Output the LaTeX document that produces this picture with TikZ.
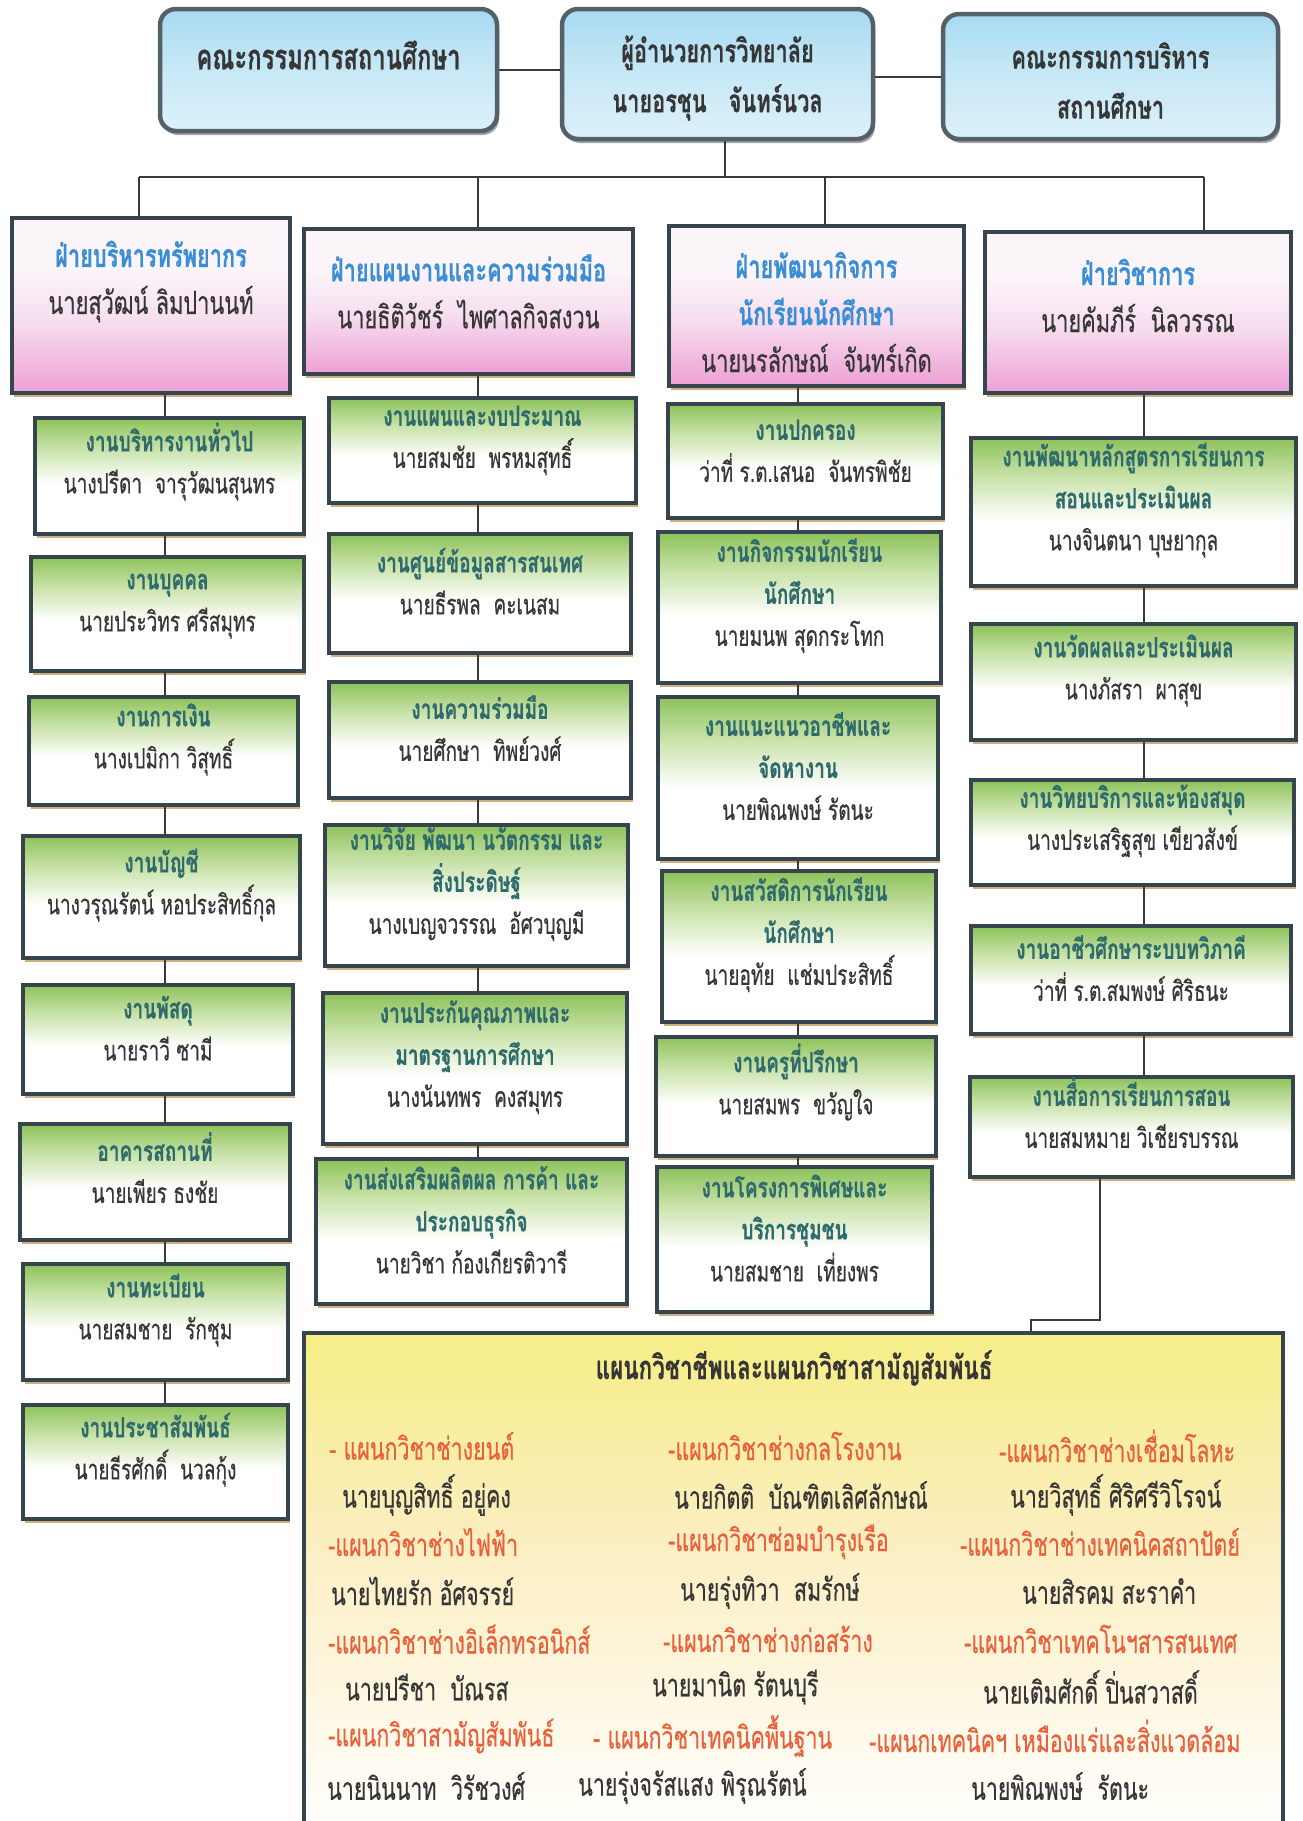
\documentclass[tikz,border=0pt]{standalone}
\usepackage{fontspec}
\setmainfont[Script=Thai,FakeStretch=0.68,FakeBold=0.4]{Loma}
\usetikzlibrary{shadows,fit,calc}
\definecolor{bordc}{HTML}{36454D}
\definecolor{shadc}{HTML}{CDAE7E}
\definecolor{gtop}{HTML}{8DC25A}
\definecolor{gmid}{HTML}{C8E2A8}
\definecolor{ptop}{HTML}{FBF4F9}
\definecolor{pmid}{HTML}{F6DDEE}
\definecolor{pbot}{HTML}{EE9FD5}
\definecolor{btop}{HTML}{A6DAF1}
\definecolor{bbot}{HTML}{DDF1FA}
\definecolor{bmid}{HTML}{C2E6F5}
\definecolor{ytop}{HTML}{F6EE86}
\definecolor{ymid}{HTML}{FBEEC0}
\definecolor{htxt}{HTML}{3A8ED5}
\definecolor{gtxt}{HTML}{2F6A6C}
\definecolor{ntxt}{HTML}{363636}
\definecolor{dtxt}{HTML}{E9603A}
\definecolor{linec}{HTML}{3A3A3A}
\pgfdeclareverticalshading{greenfade}{100bp}{color(0bp)=(white); color(25bp)=(white); color(47bp)=(white); color(62bp)=(gmid); color(75bp)=(gtop); color(100bp)=(gtop)}
\pgfdeclareverticalshading{pinkfade}{100bp}{color(0bp)=(pbot); color(25bp)=(pbot); color(45bp)=(pmid); color(60bp)=(ptop); color(100bp)=(ptop)}
\pgfdeclareverticalshading{yellowfade}{100bp}{color(0bp)=(white); color(25bp)=(white); color(55bp)=(ymid); color(75bp)=(ytop); color(100bp)=(ytop)}
\pgfdeclareverticalshading{bluefade}{100bp}{color(0bp)=(bbot); color(25bp)=(bbot); color(55bp)=(bmid); color(75bp)=(btop); color(100bp)=(btop)}
\newcommand\gtl[1]{{\bfseries\color{gtxt}#1}}
\newcommand\pnm[1]{{\color{ntxt}#1}}
\newcommand\htl[1]{{\bfseries\color{htxt}#1}}
\newcommand\dpt[1]{{\color{dtxt}#1}}
\tikzset{
 boxbase/.style={draw=bordc, line width=4.5pt, inner sep=0pt, align=center,
   drop shadow={shadow xshift=2pt, shadow yshift=-4pt, fill=shadc, opacity=1}},
 gbox/.style={boxbase, shading=greenfade, font=\fontsize{28}{42}\selectfont},
 hbox/.style={boxbase, shading=pinkfade},
 tbox/.style={draw=bordc!85, line width=4.5pt, inner sep=0pt, rounded corners=16pt, shading=bluefade,
   drop shadow={shadow xshift=2pt, shadow yshift=-4pt, fill=gray!70, opacity=1}},
 ybox/.style={boxbase, shading=yellowfade},
 htext/.style={align=center, font=\fontsize{32}{47}\selectfont},
 ttext/.style={align=center, text=ntxt, font=\fontsize{32}{50}\selectfont\bfseries},
 btext/.style={anchor=west, inner sep=0pt, font=\fontsize{31.5}{34}\selectfont},
 conn/.style={draw=linec, line width=2pt},
}
\begin{document}
\begin{tikzpicture}[x=1pt,y=-1pt]
\useasboundingbox (0,0) rectangle (1303,1821);
\fill[white] (0,0) rectangle (1303,1821);

% top row
\node[tbox, fit={(160,9)(497,131)}] (A) {};
\node[ttext, font=\fontsize{35}{50}\selectfont\bfseries] (At) at ([yshift=15pt]A.center) {คณะกรรมการสถานศึกษา};
\node[tbox, fit={(562,9)(873,139)}] (B) {};
\node[ttext] (Bt) at ([yshift=-4pt]B.center) {ผู้อำนวยการวิทยาลัย\\นายอรชุน~~~จันทร์นวล};
\node[tbox, fit={(943,14)(1278,139)}] (C) {};
\node[ttext] (Ct) at ([yshift=-4pt]C.center) {คณะกรรมการบริหาร\\สถานศึกษา};

% division headers
\node[hbox, fit={(12,218)(290,393)}] (h1) {};
\node[htext] (h1t) at ([yshift=24pt]h1.center) {\htl{ฝ่ายบริหารทรัพยากร}\\\pnm{นายสุวัฒน์ ลิมปานนท์}};
\node[hbox, fit={(304,229)(633,374)}] (h2) {};
\node[htext] (h2t) at ([yshift=10pt]h2.center) {\htl{ฝ่ายแผนงานและความร่วมมือ}\\\pnm{นายธิติวัชร์~~ไพศาลกิจสงวน}};
\node[hbox, fit={(669,226)(964,386)}] (h3) {};
\node[htext] (h3t) at ([yshift=-6pt]h3.center) {\htl{ฝ่ายพัฒนากิจการ}\\\htl{นักเรียนนักศึกษา}\\\pnm{นายนรลักษณ์~~จันทร์เกิด}};
\node[hbox, fit={(985,232)(1291,393)}] (h4) {};
\node[htext] (h4t) at ([yshift=17pt]h4.center) {\htl{ฝ่ายวิชาการ}\\\pnm{นายคัมภีร์~~นิลวรรณ}};

% column 1
\node[gbox, fit={(35,418)(304,534)}] (c1a) {\gtl{งานบริหารงานทั่วไป}\\\pnm{นางปรีดา~~จารุวัฒนสุนทร}};
\node[gbox, fit={(31,557)(304,671)}] (c1b) {\gtl{งานบุคคล}\\\pnm{นายประวิทร ศรีสมุทร}};
\node[gbox, fit={(29,697)(298,805)}] (c1c) {\gtl{งานการเงิน}\\\pnm{นางเปมิกา วิสุทธิ์}};
\node[gbox, fit={(23,836)(300,958)}] (c1d) {\gtl{งานบัญชี}\\\pnm{นางวรุณรัตน์ หอประสิทธิ์กุล}};
\node[gbox, fit={(23,985)(293,1094)}] (c1e) {\gtl{งานพัสดุ}\\\pnm{นายราวี ซามี}};
\node[gbox, fit={(20,1124)(290,1240)}] (c1f) {\gtl{อาคารสถานที่}\\\pnm{นายเพียร ธงชัย}};
\node[gbox, fit={(23,1264)(288,1380)}] (c1g) {\gtl{งานทะเบียน}\\\pnm{นายสมชาย~~รักชุม}};
\node[gbox, fit={(23,1405)(288,1519)}] (c1h) {\gtl{งานประชาสัมพันธ์}\\\pnm{นายธีรศักดิ์~~นวลกุ้ง}};

% column 2
\node[gbox, fit={(329,398)(636,503)}] (c2a) {\gtl{งานแผนและงบประมาณ}\\\pnm{นายสมชัย~~พรหมสุทธิ์}};
\node[gbox, fit={(329,534)(631,653)}] (c2b) {\gtl{งานศูนย์ข้อมูลสารสนเทศ}\\\pnm{นายธีรพล~~คะเนสม}};
\node[gbox, fit={(329,682)(631,798)}] (c2c) {\gtl{งานความร่วมมือ}\\\pnm{นายศึกษา~~ทิพย์วงศ์}};
\node[gbox, fit={(325,825)(628,966)}] (c2d) {\gtl{งานวิจัย พัฒนา นวัตกรรม และ}\\\gtl{สิ่งประดิษฐ์}\\\pnm{นางเบญจวรรณ~~อัศวบุญมี}};
\node[gbox, fit={(323,993)(627,1144)}] (c2e) {\gtl{งานประกันคุณภาพและ}\\\gtl{มาตรฐานการศึกษา}\\\pnm{นางนันทพร~~คงสมุทร}};
\node[gbox, fit={(316,1159)(627,1304)}] (c2f) {\gtl{งานส่งเสริมผลิตผล การค้า และ}\\\gtl{ประกอบธุรกิจ}\\\pnm{นายวิชา ก้องเกียรติวารี}};

% column 3
\node[gbox, fit={(668,404)(943,518)}] (c3a) {\gtl{งานปกครอง}\\\pnm{ว่าที่ ร.ต.เสนอ~~จันทรพิชัย}};
\node[gbox, fit={(658,532)(941,683)}] (c3b) {\gtl{งานกิจกรรมนักเรียน}\\\gtl{นักศึกษา}\\\pnm{นายมนพ สุดกระโทก}};
\node[gbox, fit={(658,697)(938,859)}] (c3c) {\gtl{งานแนะแนวอาชีพและ}\\\gtl{จัดหางาน}\\\pnm{นายพิณพงษ์ รัตนะ}};
\node[gbox, fit={(662,871)(936,1022)}] (c3d) {\gtl{งานสวัสดิการนักเรียน}\\\gtl{นักศึกษา}\\\pnm{นายอุทัย~~แช่มประสิทธิ์}};
\node[gbox, fit={(656,1037)(936,1156)}] (c3e) {\gtl{งานครูที่ปรึกษา}\\\pnm{นายสมพร~~ขวัญใจ}};
\node[gbox, fit={(657,1167)(932,1312)}] (c3f) {\gtl{งานโครงการพิเศษและ}\\\gtl{บริการชุมชน}\\\pnm{นายสมชาย~~เที่ยงพร}};

% column 4
\node[gbox, fit={(971,438)(1296,586)}] (c4a) {\gtl{งานพัฒนาหลักสูตรการเรียนการ}\\\gtl{สอนและประเมินผล}\\\pnm{นางจินตนา บุษยากุล}};
\node[gbox, fit={(971,624)(1296,740)}] (c4b) {\gtl{งานวัดผลและประเมินผล}\\\pnm{นางภัสรา~~ผาสุข}};
\node[gbox, fit={(971,780)(1294,885)}] (c4c) {\gtl{งานวิทยบริการและห้องสมุด}\\\pnm{นางประเสริฐสุข เขียวสังข์}};
\node[gbox, fit={(971,926)(1291,1034)}] (c4d) {\gtl{งานอาชีวศึกษาระบบทวิภาคี}\\\pnm{ว่าที่ ร.ต.สมพงษ์ ศิริธนะ}};
\node[gbox, fit={(970,1077)(1293,1177)}] (c4e) {\gtl{งานสื่อการเรียนการสอน}\\\pnm{นายสมหมาย วิเชียรบรรณ}};

% bottom box
\node[ybox, fit={(304,1333)(1283,1836)}] (bot) {};
\node[font=\fontsize{33}{36}\selectfont\bfseries, text=ntxt] (bott) at (794,1368) {แผนกวิชาชีพและแผนกวิชาสามัญสัมพันธ์};
\node[btext] (d11) at (329,1446) {\dpt{- แผนกวิชาช่างยนต์}};
\node[btext] (d12) at (668,1446) {\dpt{-แผนกวิชาช่างกลโรงงาน}};
\node[btext] (d13) at (999,1446) {\dpt{-แผนกวิชาช่างเชื่อมโลหะ}};
\node[btext] (n11) at (342,1495) {\pnm{นายบุญสิทธิ์ อยู่คง}};
\node[btext] (n12) at (674,1495) {\pnm{นายกิตติ~~บัณฑิตเลิศลักษณ์}};
\node[btext] (n13) at (1010,1495) {\pnm{นายวิสุทธิ์ ศิริศรีวิโรจน์}};
\node[btext] (d21) at (328,1542) {\dpt{-แผนกวิชาช่างไฟฟ้า}};
\node[btext] (d22) at (668,1542) {\dpt{-แผนกวิชาซ่อมบำรุงเรือ}};
\node[btext] (d23) at (960,1542) {\dpt{-แผนกวิชาช่างเทคนิคสถาปัตย์}};
\node[btext] (n21) at (331,1591) {\pnm{นายไทยรัก อัศจรรย์}};
\node[btext] (n22) at (680,1591) {\pnm{นายรุ่งทิวา~~สมรักษ์}};
\node[btext] (n23) at (1022,1591) {\pnm{นายสิรคม สะราคำ}};
\node[btext] (d31) at (328,1639) {\dpt{-แผนกวิชาช่างอิเล็กทรอนิกส์}};
\node[btext] (d32) at (663,1639) {\dpt{-แผนกวิชาช่างก่อสร้าง}};
\node[btext] (d33) at (964,1639) {\dpt{-แผนกวิชาเทคโนฯสารสนเทศ}};
\node[btext] (n31) at (345,1687) {\pnm{นายปรีชา~~บัณรส}};
\node[btext] (n32) at (652,1687) {\pnm{นายมานิต รัตนบุรี}};
\node[btext] (n33) at (983,1687) {\pnm{นายเติมศักดิ์ ปิ่นสวาสดิ์}};
\node[btext] (d41) at (328,1736) {\dpt{-แผนกวิชาสามัญสัมพันธ์}};
\node[btext] (d42) at (593,1736) {\dpt{- แผนกวิชาเทคนิคพื้นฐาน}};
\node[btext] (d43) at (869,1736) {\dpt{-แผนกเทคนิคฯ เหมืองแร่และสิ่งแวดล้อม}};
\node[btext] (n41) at (327,1786) {\pnm{นายนินนาท~~วิรัชวงศ์}};
\node[btext] (n42) at (578,1786) {\pnm{นายรุ่งจรัสแสง พิรุณรัตน์}};
\node[btext] (n43) at (971,1786) {\pnm{นายพิณพงษ์~~รัตนะ}};

% connectors
\draw[conn] (A.east) -- (A.east -| B.west);
\draw[conn] (B.east |- C.west) -- (C.west);
\coordinate (busc) at (725,177);
\coordinate (bus1) at (139,177);
\coordinate (bus2) at (478,177);
\coordinate (bus3) at (825,177);
\coordinate (bus4) at (1204,177);
\draw[conn] (B.south -| busc) -- (busc);
\draw[conn] (bus1) -- (bus4);
\foreach \i in {1,2,3,4} \draw[conn] (bus\i) -- (bus\i |- h\i.north);
\coordinate (v1) at (165,0);
\coordinate (v2) at (478,0);
\coordinate (v3) at (798,0);
\coordinate (v4) at (1144,0);
\foreach \p/\q in {h1/c1a,c1a/c1b,c1b/c1c,c1c/c1d,c1d/c1e,c1e/c1f,c1f/c1g,c1g/c1h}
  \draw[conn] (\p.south -| v1) -- (\q.north -| v1);
\foreach \p/\q in {h2/c2a,c2a/c2b,c2b/c2c,c2c/c2d,c2d/c2e,c2e/c2f}
  \draw[conn] (\p.south -| v2) -- (\q.north -| v2);
\foreach \p/\q in {h3/c3a,c3a/c3b,c3b/c3c,c3c/c3d,c3d/c3e,c3e/c3f}
  \draw[conn] (\p.south -| v3) -- (\q.north -| v3);
\foreach \p/\q in {h4/c4a,c4a/c4b,c4b/c4c,c4c/c4d,c4d/c4e}
  \draw[conn] (\p.south -| v4) -- (\q.north -| v4);
\coordinate (e1) at (1100,1320);
\coordinate (e2) at (1031,1320);
\draw[conn] (c4e.south -| e1) -- (e1) -- (e2) -- (e2 |- bot.north);
\end{tikzpicture}
\end{document}
